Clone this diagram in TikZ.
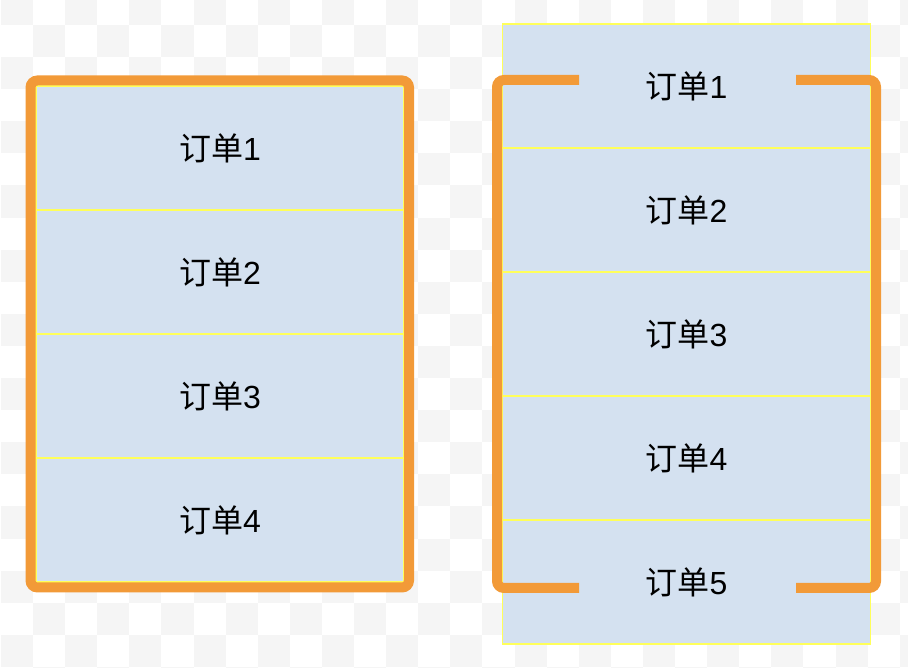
\documentclass[tikz,border=0pt]{standalone}
\usepackage{fontspec}
\setmainfont{Liberation Sans}
\newfontfamily\cjk{Noto Sans CJK SC}
\usetikzlibrary{positioning, calc}
\definecolor{myorange}{RGB}{242,154,56}
\definecolor{cellblue}{RGB}{212,225,240}
\definecolor{cellline}{RGB}{255,255,90}
\definecolor{checkgray}{RGB}{245,245,245}
\newcommand{\ordertext}[1]{{\cjk 订单}#1}
\tikzset{
  cell/.style={rectangle, draw=cellline, fill=cellblue, line width=1.2pt,
    minimum width=368pt, minimum height=124pt, inner sep=0pt, outer sep=0pt,
    font=\fontsize{32}{34}\selectfont},
  frame/.style={draw=myorange, line width=10pt, rounded corners=7pt},
  checker/.style={fill=checkgray}
}

\begin{document}
\begin{tikzpicture}[x=1pt, y=1pt]
  \useasboundingbox (0,0) rectangle (908,668);
  % Background checkerboard
  \begin{scope}
    \clip (0,0) rectangle (908,668);
    \foreach \i in {0,...,28} {
      \foreach \j in {0,...,21} {
        \pgfmathtruncatemacro\parity{mod(\i+\j,2)}
        \ifnum\parity=0
          \fill[checker] (0.9+32.1*\i, 675.1-32.1*\j) rectangle ++(32.1,-32.1);
        \fi
      }
    }
  \end{scope}

  % Left stack
  \node[cell] (l1) at (220, 520) {\ordertext{1}};
  \node[cell, below=0pt of l1] (l2) {\ordertext{2}};
  \node[cell, below=0pt of l2] (l3) {\ordertext{3}};
  \node[cell, below=0pt of l3] (l4) {\ordertext{4}};

  % Right stack
  \node[cell] (r1) at (686.5, 582) {\ordertext{1}};
  \node[cell, below=0pt of r1] (r2) {\ordertext{2}};
  \node[cell, below=0pt of r2] (r3) {\ordertext{3}};
  \node[cell, below=0pt of r3] (r4) {\ordertext{4}};
  \node[cell, below=0pt of r4] (r5) {\ordertext{5}};

  % Frames
  \draw[frame] ($(l1.north west)+(-5.5,5.5)$) rectangle ($(l4.south east)+(5,-5.5)$);

  \coordinate (rtl) at ($(r1.west)+(-5.5,6)$);
  \coordinate (rbl) at ($(r5.west)+(-5.5,-6)$);
  \coordinate (rtr) at ($(r1.east)+(5.5,6)$);
  \coordinate (rbr) at ($(r5.east)+(5.5,-6)$);
  \draw[frame] ($(rtl)+(82,0)$) -- (rtl) -- (rbl) -- ($(rbl)+(82,0)$);
  \draw[frame] ($(rtr)+(-80,0)$) -- (rtr) -- (rbr) -- ($(rbr)+(-80,0)$);
\end{tikzpicture}
\end{document}
